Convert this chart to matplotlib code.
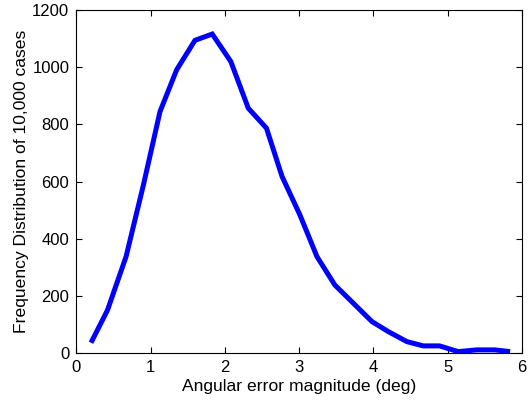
import matplotlib
matplotlib.use("Agg")
import matplotlib.pyplot as plt

matplotlib.rcParams["font.family"] = ["Liberation Sans", "DejaVu Sans"]

# angular error (deg) vs number of cases out of 10,000
err_deg = [0.198, 0.42, 0.67, 0.905, 1.127, 1.351, 1.598, 1.83, 2.08, 2.315,
           2.56, 2.77, 3.01, 3.24, 3.48, 3.73, 3.98, 4.20, 4.45, 4.67,
           4.89, 5.14, 5.39, 5.635, 5.84]
freq = [37, 151, 338, 590, 845, 991, 1094, 1116, 1020, 857,
        787, 618, 484, 338, 239, 175, 111, 76, 41, 26,
        26, 6, 12, 12, 6]

fig = plt.figure(figsize=(5.28, 4.08), dpi=100)
ax = fig.add_axes([0.1445, 0.134, 0.8441, 0.8415])
ax.plot(err_deg, freq, color="blue", lw=3.6, solid_joinstyle="miter", solid_capstyle="butt")
ax.set_xlim(0, 6); ax.set_ylim(0, 1200)
ax.set_xticks(range(0, 7)); ax.set_yticks(range(0, 1201, 200))
ax.tick_params(direction="in", top=True, right=True, length=4, width=0.8, labelsize=12, pad=5)
for s in ax.spines.values():
    s.set_linewidth(0.8)
ax.set_xlabel("Angular error magnitude (deg)", fontsize=12.6, labelpad=3)
ax.set_ylabel("Frequency Distribution of 10,000 cases", fontsize=12.6, labelpad=2)
fig.savefig("out.png", dpi=100)
